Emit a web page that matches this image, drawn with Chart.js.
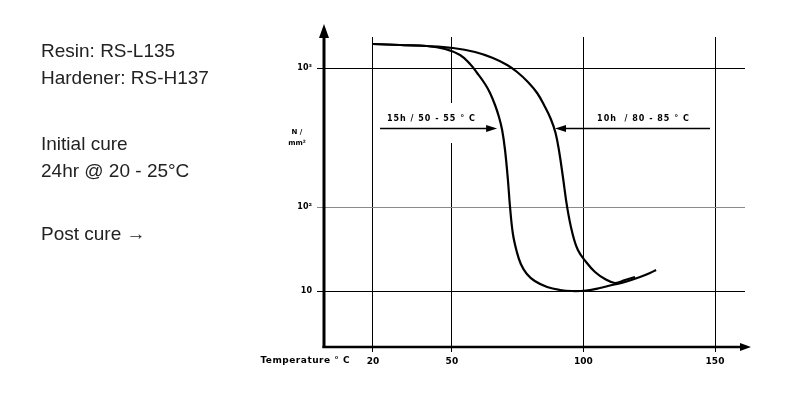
<!DOCTYPE html>
<html>
<head>
<meta charset="utf-8">
<script src="https://cdn.jsdelivr.net/npm/chart.js@4.4.1/dist/chart.umd.min.js"></script>
<style>
  html, body { margin: 0; padding: 0; background: #fff; }
  #wrap { position: relative; width: 800px; height: 401px; overflow: hidden; }
  canvas { position: absolute; left: 0; top: 0; }
  .note { position: absolute; left: 41px; font-family: "Liberation Sans", Arial, sans-serif;
          font-size: 19px; line-height: 27px; color: #222; white-space: nowrap; }
</style>
</head>
<body>
<div id="wrap">
  <canvas id="c" width="800" height="401"></canvas>
  <div class="note" style="top:37px">Resin: RS-L135</div>
  <div class="note" style="top:64px">Hardener: RS-H137</div>
  <div class="note" style="top:130px">Initial cure</div>
  <div class="note" style="top:157px">24hr @ 20 - 25°C</div>
  <div class="note" style="top:220px">Post cure →</div>
</div>
<script>
// ---- data ----
const temperatureTicks = [20, 50, 100, 150];
const modulusTickValues = [56, 140, 279];          // positions on the (printed) modulus axis
const modulusTickLabels = ['10', '10²', '10³'];

const cure15hLabel = '15h / 50 - 55 ° C';
const cure15hTemp = [20.0, 30.3, 40.5, 47.4, 53.1, 56.9, 59.6, 62.6, 64.5, 66.4, 67.9, 69.1, 70.2, 71.3, 72.1, 73.2, 74.6, 76.2, 78.5, 81.5, 86.2, 91.1, 95.7, 101.0, 106.3, 110.9, 115.8, 121.5, 125.3, 127.6];
const cure15hModulus = [303, 302, 301, 298, 292, 283, 274, 263, 254, 242, 230, 217, 197, 167, 140, 113, 96, 83, 73, 66, 60, 57, 56, 56.5, 59, 62, 65, 70, 74, 77];

const cure10hLabel = '10h  / 80 - 85 ° C';
const cure10hTemp = [20.0, 30.3, 40.5, 50.4, 58.8, 65.6, 71.0, 74.8, 78.9, 82.4, 85.2, 87.6, 89.4, 90.8, 92.2, 93.8, 95.7, 97.9, 101.0, 104.4, 108.2, 112.0, 115.8, 119.6];
const cure10hModulus = [303, 302, 301, 299, 295, 289, 282, 275, 265, 254, 241, 228, 214, 195, 170, 140, 115, 97, 85, 75, 68, 64, 67, 70];

// ---- config ----
const FONT = '"DejaVu Sans", sans-serif';
const toPoints = (xs, ys) => xs.map((t, i) => ({ x: t, y: ys[i] }));

const annotations = [
  { text: cure15hLabel, tx: 25.3, ty: 228, from: 22.7, to: 67.2, ay: 219.5 },
  { text: cure10hLabel, tx: 105.2, ty: 228, from: 148.1, to: 89.2, ay: 219.5 }
];
const gridGap = { x: 50, from: 244, to: 204 };

function arrowHead(ctx, tipX, tipY, dx, dy, len, half) {
  const bx = tipX - dx * len, by = tipY - dy * len;
  ctx.beginPath();
  ctx.moveTo(tipX, tipY);
  ctx.lineTo(bx - dy * half, by + dx * half);
  ctx.lineTo(bx + dy * half, by - dx * half);
  ctx.closePath();
  ctx.fill();
}

const decor = {
  id: 'decor',
  beforeDatasetsDraw(chart) {
    const { ctx, scales: { x, y } } = chart;
    const px = x.getPixelForValue(gridGap.x);
    const y1 = y.getPixelForValue(gridGap.from), y2 = y.getPixelForValue(gridGap.to);
    ctx.save();
    ctx.fillStyle = '#fff';
    ctx.fillRect(px - 2, y1, 4, y2 - y1);
    ctx.restore();
  },
  afterDraw(chart) {
    const { ctx, chartArea: a, scales: { x, y } } = chart;
    ctx.save();
    ctx.strokeStyle = '#000';
    ctx.fillStyle = '#000';
    // y axis with arrow
    ctx.lineWidth = 3;
    ctx.beginPath();
    ctx.moveTo(a.left, a.bottom + 1);
    ctx.lineTo(a.left, 34);
    ctx.stroke();
    arrowHead(ctx, a.left, 24, 0, -1, 14, 5);
    // x axis with arrow
    ctx.lineWidth = 2.5;
    ctx.beginPath();
    ctx.moveTo(a.left - 1.5, a.bottom);
    ctx.lineTo(743, a.bottom);
    ctx.stroke();
    arrowHead(ctx, 751, a.bottom, 1, 0, 11, 4);

    // annotations
    ctx.font = 'bold 8px ' + FONT;
    ctx.letterSpacing = '1px';
    ctx.textBaseline = 'middle';
    ctx.textAlign = 'left';
    ctx.lineWidth = 1.3;
    annotations.forEach(an => {
      ctx.fillText(an.text, x.getPixelForValue(an.tx), y.getPixelForValue(an.ty));
      const x1 = x.getPixelForValue(an.from), x2 = x.getPixelForValue(an.to);
      const yy = Math.round(y.getPixelForValue(an.ay)) + 0.5;
      const dir = x2 > x1 ? 1 : -1;
      ctx.beginPath();
      ctx.moveTo(x1, yy);
      ctx.lineTo(x2 - dir * 8, yy);
      ctx.stroke();
      arrowHead(ctx, x2, yy, dir, 0, 11, 3.5);
    });

    // axis captions
    ctx.letterSpacing = '0.5px';
    ctx.font = 'bold 9px ' + FONT;
    ctx.textAlign = 'right';
    ctx.fillText('Temperature ° C', 350, 361);
    ctx.letterSpacing = '0px';
    ctx.font = 'bold 7px ' + FONT;
    ctx.textAlign = 'center';
    ctx.fillText('N /', 297, 132);
    ctx.fillText('mm²', 297, 143);
    ctx.restore();
  }
};

new Chart(document.getElementById('c'), {
  type: 'scatter',
  data: {
    datasets: [
      { label: cure15hLabel, data: toPoints(cure15hTemp, cure15hModulus), showLine: true,
        borderColor: '#000', borderWidth: 2.2, pointRadius: 0, tension: 0.4 },
      { label: cure10hLabel, data: toPoints(cure10hTemp, cure10hModulus), showLine: true,
        borderColor: '#000', borderWidth: 2.2, pointRadius: 0, tension: 0.4 }
    ]
  },
  options: {
    responsive: false,
    animation: false,
    devicePixelRatio: 1,
    layout: { padding: { left: 294, right: 55, top: 37, bottom: 0 } },
    plugins: { legend: { display: false }, tooltip: { enabled: false } },
    scales: {
      x: {
        type: 'linear', min: 1.4, max: 161.4,
        afterBuildTicks: s => { s.ticks = temperatureTicks.map(v => ({ value: v })); },
        afterFit: s => { s.height = 54; },
        border: { display: false },
        grid: { color: '#000', lineWidth: 1, tickLength: 5, drawTicks: true },
        ticks: { color: '#000', padding: 4, maxRotation: 0, autoSkip: false,
                 font: { family: FONT, size: 9, weight: 'bold' } }
      },
      y: {
        type: 'linear', min: 0, max: 310,
        afterBuildTicks: s => { s.ticks = modulusTickValues.map(v => ({ value: v })); },
        afterFit: s => { s.width = 30; },
        border: { display: false },
        grid: { color: c => (c.tick && c.tick.value === 140 ? '#8a8a8a' : '#000'), lineWidth: 1, tickLength: 7 },
        ticks: { color: '#000', padding: 5, autoSkip: false,
                 font: { family: FONT, size: 8, weight: 'bold' },
                 callback: v => { const i = modulusTickValues.indexOf(v); return i >= 0 ? modulusTickLabels[i] : ''; } }
      }
    }
  },
  plugins: [decor]
});
</script>
</body>
</html>
